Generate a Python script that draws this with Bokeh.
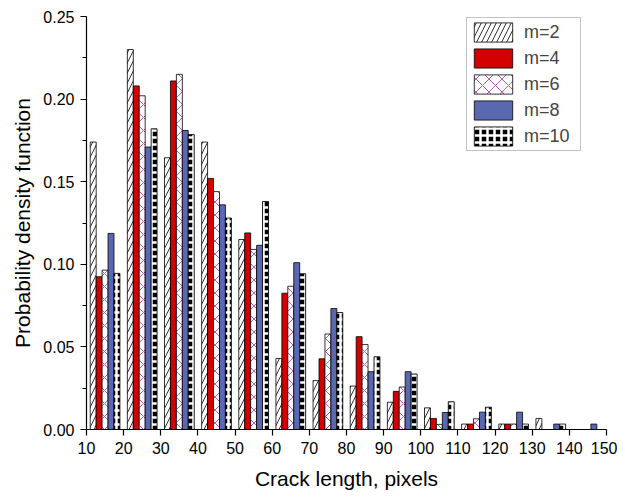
from bokeh.plotting import figure
from bokeh.models import Legend, LegendItem, FixedTicker, NumeralTickFormatter, Range1d, ColumnDataSource
from bokeh.transform import dodge
from bokeh.embed import file_html
from bokeh.resources import INLINE

bins = [15, 25, 35, 45, 55, 65, 75, 85, 95, 105, 115, 125, 135, 145]
m2 = [0.174, 0.230, 0.1645, 0.174, 0.115, 0.043, 0.0296, 0.0263, 0.0165, 0.0131, 0.0033, 0.0033, 0.0067, 0.0]
m4 = [0.0925, 0.208, 0.211, 0.152, 0.119, 0.0825, 0.0428, 0.0562, 0.0231, 0.0067, 0.0033, 0.0033, 0.0, 0.0]
m6 = [0.0965, 0.202, 0.215, 0.144, 0.109, 0.0867, 0.0578, 0.0514, 0.0257, 0.0031, 0.0065, 0.0033, 0.0, 0.0]
m8 = [0.1187, 0.171, 0.181, 0.136, 0.1115, 0.101, 0.0732, 0.035, 0.035, 0.0103, 0.0105, 0.0105, 0.0033, 0.0033]
m10 = [0.0945, 0.182, 0.1785, 0.128, 0.138, 0.0943, 0.0708, 0.044, 0.0336, 0.0168, 0.0135, 0.0033, 0.0033, 0.0]
labels = ["m=2", "m=4", "m=6", "m=8", "m=10"]
xticks = list(range(10, 151, 10))
yticks = [0, 0.05, 0.10, 0.15, 0.20, 0.25]
yminor = [0.025, 0.075, 0.125, 0.175, 0.225]

src = ColumnDataSource(dict(x=bins, m2=m2, m4=m4, m6=m6, m8=m8, m10=m10))

p = figure(width=617, height=492, output_backend="svg", toolbar_location=None,
           x_range=Range1d(10, 150), y_range=Range1d(0, 0.25),
           min_border_left=86, min_border_right=11, min_border_top=16, min_border_bottom=60)
p.outline_line_color = None
p.grid.visible = False

FONT = "Liberation Sans"
bw = 1.6
styles = [
    dict(fill_color="white", hatch_pattern="/", hatch_color="black", hatch_weight=0.8, hatch_scale=10),
    dict(fill_color="#d40000"),
    dict(fill_color="white", hatch_pattern="x", hatch_color="#c458b8", hatch_weight=1.0, hatch_scale=13),
    dict(fill_color="#5a67b1"),
    dict(fill_color="black", hatch_pattern="+", hatch_color="white", hatch_weight=2.5, hatch_scale=7),
]
cols = ["m2", "m4", "m6", "m8", "m10"]
items = []
for i, (c, st, lab) in enumerate(zip(cols, styles, labels)):
    r = p.vbar(x=dodge("x", (i - 2) * bw, range=p.x_range), top=c, width=bw, source=src,
               line_color="black", line_width=0.8, **st)
    items.append(LegendItem(label=lab, renderers=[r]))

legend = Legend(items=items, location=(380, 278), label_text_font=FONT, label_text_font_size="18px",
                glyph_width=48, glyph_height=24, spacing=2, padding=2, margin=0,
                label_standoff=7, label_width=54, border_line_color="#888888", border_line_width=1,
                background_fill_alpha=1)
p.add_layout(legend)

p.xaxis.ticker = FixedTicker(ticks=xticks)
p.yaxis.ticker = FixedTicker(ticks=yticks, minor_ticks=yminor)
p.yaxis.formatter = NumeralTickFormatter(format="0.00")
for ax in (p.xaxis, p.yaxis):
    ax.axis_line_color = "black"
    ax.axis_line_width = 1.2
    ax.major_tick_line_color = "black"
    ax.major_tick_line_width = 1.2
    ax.minor_tick_line_color = "black"
    ax.major_tick_out = 6
    ax.major_tick_in = 0
    ax.major_label_text_font = FONT
    ax.major_label_text_font_size = "16px"
    ax.major_label_text_color = "black"
    ax.axis_label_text_font = FONT
    ax.axis_label_text_font_size = "21px"
    ax.axis_label_text_font_style = "normal"
    ax.axis_label_text_color = "black"
p.xaxis.minor_tick_line_color = None
p.yaxis.minor_tick_out = 4
p.yaxis.minor_tick_in = 0
p.xaxis.major_label_standoff = 6
p.yaxis.major_label_standoff = 6
p.xaxis.axis_label = "Crack length, pixels"
p.yaxis.axis_label = "Probability density function"
p.xaxis.axis_label_standoff = 10
p.yaxis.axis_label_standoff = 6

open("out.html", "w").write(file_html(p, INLINE))
